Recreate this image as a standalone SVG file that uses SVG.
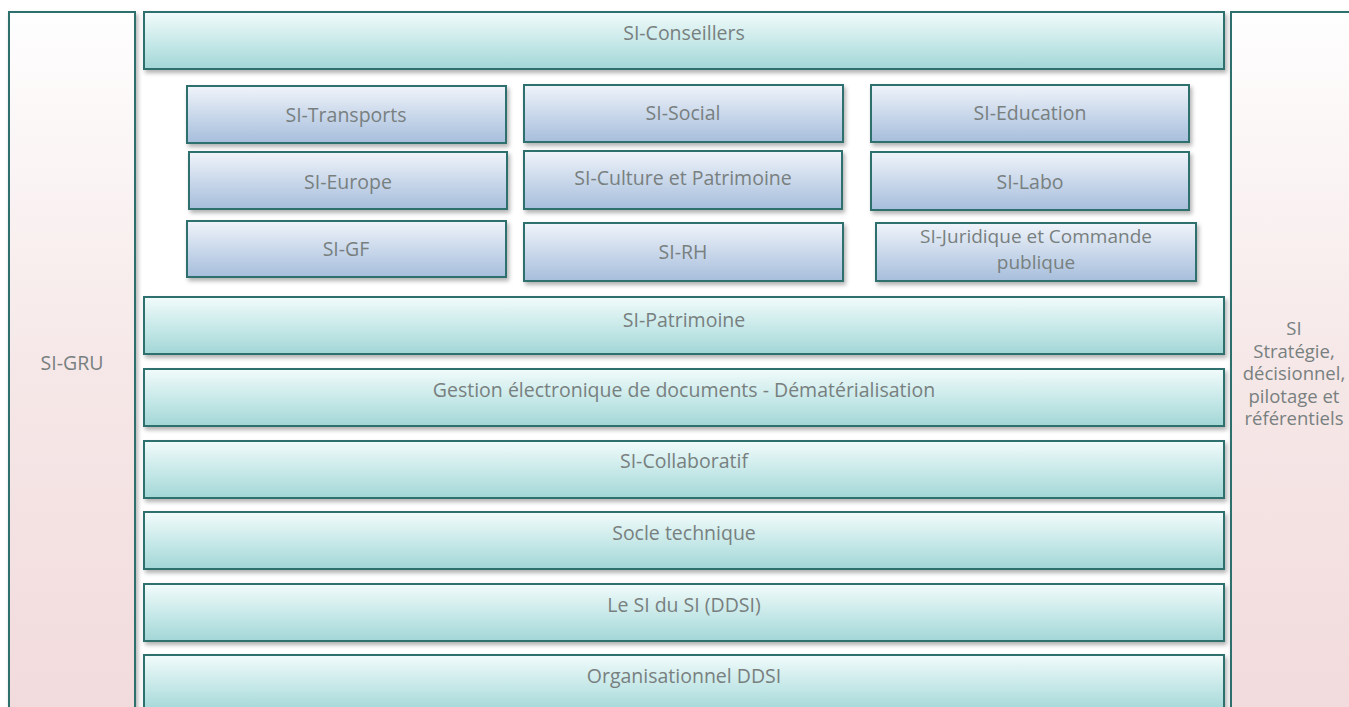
<svg xmlns="http://www.w3.org/2000/svg" width="1349" height="707" viewBox="0 0 1349 707">
<style>
.teal{fill:url(#gTeal);stroke:#2f6f6e;stroke-width:2;filter:url(#sh)}
.blue{fill:url(#gBlue);stroke:#2f6f6e;stroke-width:2;filter:url(#sh)}
.side{fill:url(#gPink);stroke:#2f6f6e;stroke-width:2;filter:url(#sh)}
text{font-family:"Open Sans","Liberation Sans",sans-serif;font-size:19.5px;fill:#78807f;text-anchor:middle}
.tight{font-size:18.5px}
.jur{font-size:19px}
</style>
<defs>
<linearGradient id="gTeal" x1="0" y1="0" x2="0" y2="1">
<stop offset="0" stop-color="#f2fbfb"/><stop offset="0.6" stop-color="#c2e6e6"/><stop offset="1" stop-color="#a3d6d7"/>
</linearGradient>
<linearGradient id="gBlue" x1="0" y1="0" x2="0" y2="1">
<stop offset="0" stop-color="#f0f4fa"/><stop offset="0.6" stop-color="#c3d3e8"/><stop offset="1" stop-color="#a7bedc"/>
</linearGradient>
<linearGradient id="gPink" gradientUnits="userSpaceOnUse" x1="0" y1="12" x2="0" y2="707">
<stop offset="0" stop-color="#fefefe"/><stop offset="0.5" stop-color="#f6e8e8"/><stop offset="1" stop-color="#f2dbdc"/>
</linearGradient>
<filter id="sh" x="-5%" y="-20%" width="110%" height="150%">
<feDropShadow dx="2" dy="3" stdDeviation="2" flood-color="#000" flood-opacity="0.3"/>
</filter>
</defs>
<rect width="1349" height="707" fill="#ffffff"/>
<g id="si-gru"><rect class="side" x="9" y="12" width="126" height="710"/><text x="72" y="370">SI-GRU</text></g>
<g id="si-strategie"><rect class="side" x="1231" y="12" width="130" height="710"/>
<text class="tight" x="1294" y="335"><tspan x="1294" y="335">SI</tspan><tspan x="1294" y="357.5">Stratégie,</tspan><tspan x="1294" y="380">décisionnel,</tspan><tspan x="1294" y="402.5">pilotage et</tspan><tspan x="1294" y="425">référentiels</tspan></text></g>
<g id="si-conseillers"><rect class="teal" x="144" y="12" width="1080" height="57"/><text x="684" y="40">SI-Conseillers</text></g>
<g id="si-transports"><rect class="blue" x="187" y="86" width="319" height="57"/><text x="346" y="122">SI-Transports</text></g>
<g id="si-social"><rect class="blue" x="524" y="85" width="319" height="57"/><text x="683" y="120">SI-Social</text></g>
<g id="si-education"><rect class="blue" x="871" y="85" width="318" height="57"/><text x="1030" y="120">SI-Education</text></g>
<g id="si-europe"><rect class="blue" x="189" y="152" width="318" height="57"/><text x="348" y="189">SI-Europe</text></g>
<g id="si-culture"><rect class="blue" x="524" y="151" width="318" height="58"/><text x="683" y="185">SI-Culture et Patrimoine</text></g>
<g id="si-labo"><rect class="blue" x="871" y="152" width="318" height="58"/><text x="1030" y="189">SI-Labo</text></g>
<g id="si-gf"><rect class="blue" x="187" y="221" width="319" height="56"/><text x="346" y="256">SI-GF</text></g>
<g id="si-rh"><rect class="blue" x="524" y="223" width="319" height="58"/><text x="683" y="259">SI-RH</text></g>
<g id="si-juridique"><rect class="blue" x="876" y="223" width="320" height="58"/><text class="jur" x="1036" y="243"><tspan x="1036" y="243">SI-Juridique et Commande</tspan><tspan x="1036" y="269">publique</tspan></text></g>
<g id="si-patrimoine"><rect class="teal" x="144" y="297" width="1080" height="57"/><text x="684" y="327">SI-Patrimoine</text></g>
<g id="ged"><rect class="teal" x="144" y="369" width="1080" height="57"/><text x="684" y="397">Gestion électronique de documents - Dématérialisation</text></g>
<g id="si-collaboratif"><rect class="teal" x="144" y="441" width="1080" height="57"/><text x="684" y="468">SI-Collaboratif</text></g>
<g id="socle"><rect class="teal" x="144" y="512" width="1080" height="57"/><text x="684" y="540">Socle technique</text></g>
<g id="si-du-si"><rect class="teal" x="144" y="584" width="1080" height="57"/><text x="684" y="612">Le SI du SI (DDSI)</text></g>
<g id="organisationnel"><rect class="teal" x="144" y="655" width="1080" height="57"/><text x="684" y="683">Organisationnel DDSI</text></g>
<g id="connectors"></g>
</svg>
